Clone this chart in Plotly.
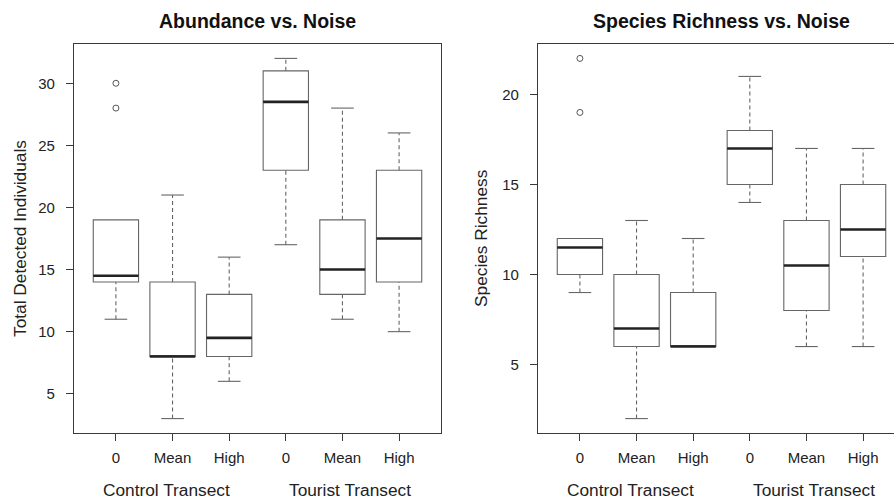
import plotly.graph_objects as go

# ---------------- data ----------------
categories = ["0", "Mean", "High", "0", "Mean", "High"]
positions = [1, 2, 3, 4, 5, 6]
groups = ["Control Transect", "Tourist Transect"]

# Abundance (Total Detected Individuals)
ab_low = [11, 3, 6, 17, 11, 10]
ab_q1 = [14, 8, 8, 23, 13, 14]
ab_med = [14.5, 8, 9.5, 28.5, 15, 17.5]
ab_q3 = [19, 14, 13, 31, 19, 23]
ab_high = [19, 21, 16, 32, 28, 26]
ab_out_x = [1, 1]
ab_out_y = [30, 28]

# Species richness
sr_low = [9, 2, 6, 14, 6, 6]
sr_q1 = [10, 6, 6, 15, 8, 11]
sr_med = [11.5, 7, 6, 17, 10.5, 12.5]
sr_q3 = [12, 10, 9, 18, 13, 15]
sr_high = [12, 13, 12, 21, 17, 17]
sr_out_x = [1, 1]
sr_out_y = [22, 19]

titles = ["Abundance vs. Noise", "Species Richness vs. Noise"]
ytitles = ["Total Detected Individuals", "Species Richness"]
ab_yticks = [5, 10, 15, 20, 25, 30]
sr_yticks = [5, 10, 15, 20]

# ---------------- style ----------------
W, H = 894, 499
BOXW = 0.8
CAP = 0.2
LINE = "#3a3a3a"
BOXLINE = "#666666"
FONT = "Liberation Sans, Arial, Helvetica, sans-serif"
TXT = "#222222"

fig = go.Figure()


def add_panel(xref, yref, low, q1, med, q3, high, ox, oy):
    # boxes (whiskers collapsed; dashed whiskers drawn separately)
    fig.add_trace(go.Box(
        x=positions, q1=q1, median=med, q3=q3,
        lowerfence=q1, upperfence=q3,
        width=BOXW, whiskerwidth=0, boxpoints=False,
        line=dict(color=BOXLINE, width=1.1), fillcolor="white",
        xaxis=xref, yaxis=yref, showlegend=False, hoverinfo="skip",
    ))
    # dashed whiskers
    wx, wy = [], []
    for p, lo, a, b, hi in zip(positions, low, q1, q3, high):
        if lo < a:
            wx += [p, p, None]
            wy += [lo, a, None]
        if hi > b:
            wx += [p, p, None]
            wy += [b, hi, None]
    fig.add_trace(go.Scatter(
        x=wx, y=wy, mode="lines",
        line=dict(color=BOXLINE, width=1.1, dash="4px,3px"),
        xaxis=xref, yaxis=yref, showlegend=False, hoverinfo="skip",
    ))
    # caps
    cx, cy = [], []
    for p, lo, a, b, hi in zip(positions, low, q1, q3, high):
        if lo < a:
            cx += [p - CAP, p + CAP, None]
            cy += [lo, lo, None]
        if hi > b:
            cx += [p - CAP, p + CAP, None]
            cy += [hi, hi, None]
    fig.add_trace(go.Scatter(
        x=cx, y=cy, mode="lines",
        line=dict(color=BOXLINE, width=1.1),
        xaxis=xref, yaxis=yref, showlegend=False, hoverinfo="skip",
    ))
    # thick medians
    mx, my = [], []
    for p, m in zip(positions, med):
        mx += [p - BOXW / 2, p + BOXW / 2, None]
        my += [m, m, None]
    fig.add_trace(go.Scatter(
        x=mx, y=my, mode="lines",
        line=dict(color="#222222", width=2.6),
        xaxis=xref, yaxis=yref, showlegend=False, hoverinfo="skip",
    ))
    # outliers
    fig.add_trace(go.Scatter(
        x=ox, y=oy, mode="markers",
        marker=dict(symbol="circle-open", size=6, color="#555555",
                    line=dict(width=1)),
        xaxis=xref, yaxis=yref, showlegend=False, hoverinfo="skip",
    ))


add_panel("x", "y", ab_low, ab_q1, ab_med, ab_q3, ab_high, ab_out_x, ab_out_y)
add_panel("x2", "y2", sr_low, sr_q1, sr_med, sr_q3, sr_high, sr_out_x, sr_out_y)

# pixel geometry
L1, R1 = 74, 441
L2, R2 = 538, 894
TOP, BOT = 44, 433
plot_h = BOT - TOP
unit = (R1 - L1) / 6.48
x2max = 0.26 + (R2 - L2) / unit

common_x = dict(
    tickmode="array", tickvals=positions, ticktext=categories,
    ticks="outside", ticklen=7, tickwidth=1.1, tickcolor=LINE,
    showline=True, linecolor=LINE, linewidth=1.2, mirror=True,
    showgrid=False, zeroline=False, ticklabelstandoff=4,
    tickfont=dict(family=FONT, size=15, color=TXT),
)
common_y = dict(
    ticks="outside", ticklen=7, tickwidth=1.1, tickcolor=LINE,
    showline=True, linecolor=LINE, linewidth=1.2,
    showgrid=False, zeroline=False, ticklabelstandoff=8,
    tickfont=dict(family=FONT, size=15, color=TXT),
)

fig.update_layout(
    width=W, height=H,
    margin=dict(l=0, r=0, t=TOP, b=H - BOT, autoexpand=False),
    paper_bgcolor="white", plot_bgcolor="white",
    xaxis=dict(domain=[L1 / W, R1 / W], range=[0.26, 6.74], anchor="y",
               **common_x),
    xaxis2=dict(domain=[L2 / W, 1.0], range=[0.26, x2max], anchor="y2",
                **common_x),
    yaxis=dict(range=[1.84, 33.16], tickvals=ab_yticks, anchor="x",
               mirror=True, **common_y),
    yaxis2=dict(range=[1.2, 22.8], tickvals=sr_yticks, anchor="x2",
                mirror=False, **common_y),
    showlegend=False,
)

# titles
panel_centers = [(L1 + R1) / 2, (L2 + L2 + 6.48 * unit) / 2]
for t, cxp in zip(titles, panel_centers):
    fig.add_annotation(
        text="<b>%s</b>" % t, xref="paper", yref="paper",
        x=cxp / W, y=1 + (TOP - 20.5) / plot_h,
        xanchor="center", yanchor="middle", showarrow=False,
        font=dict(family=FONT, size=19.5, color="#111111"),
    )

# y-axis titles
for t, xp in zip(ytitles, [19.5, 480.5]):
    fig.add_annotation(
        text=t, xref="paper", yref="paper",
        x=xp / W, y=0.5, textangle=-90,
        xanchor="center", yanchor="middle", showarrow=False,
        font=dict(family=FONT, size=17.3, color=TXT),
    )

# group labels under each panel
group_at = [1.9, 5.14]
for xr in ["x", "x2"]:
    for g, gx in zip(groups, group_at):
        fig.add_annotation(
            text=g, xref=xr, yref="paper", x=gx,
            y=-(490 - BOT) / plot_h,
            xanchor="center", yanchor="middle", showarrow=False,
            font=dict(family=FONT, size=17.3, color=TXT),
        )

fig.write_html(
    "out.html",
    config={"displayModeBar": False},
    post_script="document.body.style.margin='0';document.body.style.overflow='hidden';",
)
